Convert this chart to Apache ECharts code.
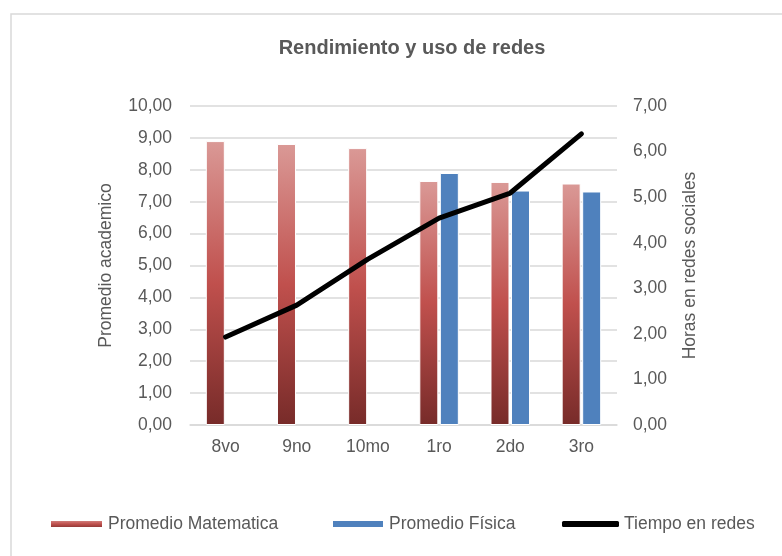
<!DOCTYPE html>
<html>
<head>
<meta charset="utf-8">
<script src="https://cdn.jsdelivr.net/npm/echarts@6/dist/echarts.min.js"></script>
<style>
  html, body { margin: 0; padding: 0; background: #fff; }
  #chart { width: 782px; height: 556px; }
</style>
</head>
<body>
<div id="chart"></div>
<script>
// datos
var categorias = ["8vo", "9no", "10mo", "1ro", "2do", "3ro"];
var promMatematica = [8.90, 8.81, 8.68, 7.65, 7.62, 7.57];
var promFisica = [null, null, null, 7.90, 7.35, 7.32];
var tiempoRedes = [1.93, 2.63, 3.64, 4.54, 5.09, 6.39];

var gris = "#595959";
var fuente = "'Liberation Sans', Arial, sans-serif";
var tam = 17.5;

var chart = echarts.init(document.getElementById("chart"));

var degradado = new echarts.graphic.LinearGradient(0, 0, 0, 1, [
  { offset: 0, color: "#da9996" },
  { offset: 0.5, color: "#c0504d" },
  { offset: 1, color: "#772b29" }
]);

function coma(v) {
  return v.toFixed(2).replace(".", ",");
}

var option = {
  animation: false,
  backgroundColor: "#fff",
  textStyle: { fontFamily: fuente },
  graphic: [
    {
      type: "rect",
      shape: { x: 11, y: 14, width: 800, height: 600 },
      style: { fill: "none", stroke: "#d9d9d9", lineWidth: 1.5 },
      silent: true
    }
  ],
  title: {
    text: "Rendimiento y uso de redes",
    left: 407,
    top: 33,
    textAlign: "center",
    textStyle: { color: gris, fontSize: 20, fontWeight: "bold", fontFamily: fuente }
  },
  legend: [
    {
      data: ["Promedio Matematica"],
      left: 44, top: 510,
      itemWidth: 53, itemHeight: 8,
      textStyle: { color: gris, fontSize: tam, fontFamily: fuente },
      icon: "rect"
    },
    {
      data: ["Promedio Física"],
      left: 326, top: 510,
      itemWidth: 52, itemHeight: 8,
      textStyle: { color: gris, fontSize: tam, fontFamily: fuente },
      icon: "rect"
    },
    {
      data: [{ name: "Tiempo en redes", icon: "roundRect" }],
      left: 557, top: 510,
      itemWidth: 57, itemHeight: 6,
      textStyle: { color: gris, fontSize: tam, fontFamily: fuente }
    }
  ],
  grid: { left: 190, right: 165, top: 106, bottom: 131 },
  xAxis: {
    type: "category",
    data: categorias,
    axisLine: { lineStyle: { color: "#d9d9d9", width: 1.5 } },
    axisTick: { show: false },
    axisLabel: { color: gris, fontSize: tam, margin: 13 }
  },
  yAxis: [
    {
      type: "value",
      min: 0, max: 10, interval: 1,
      name: "Promedio academico",
      nameLocation: "middle",
      nameRotate: 90,
      nameGap: 75,
      nameTextStyle: { color: gris, fontSize: tam },
      axisLine: { show: false },
      axisTick: { show: false },
      axisLabel: { color: gris, fontSize: tam, margin: 18, formatter: coma },
      splitLine: { lineStyle: { color: "#d9d9d9", width: 1.5 } }
    },
    {
      type: "value",
      min: 0, max: 7, interval: 1,
      name: "Horas en redes sociales",
      nameLocation: "middle",
      nameRotate: 90,
      nameGap: 64,
      nameTextStyle: { color: gris, fontSize: tam },
      axisLine: { show: false },
      axisTick: { show: false },
      axisLabel: { color: gris, fontSize: tam, margin: 16, formatter: coma },
      splitLine: { show: false }
    }
  ],
  series: [
    {
      name: "Promedio Matematica",
      type: "bar",
      data: promMatematica,
      barWidth: 19,
      barGap: "8%",
      itemStyle: { color: degradado, borderColor: "#fff", borderWidth: 1 }
    },
    {
      name: "Promedio Física",
      type: "bar",
      data: promFisica,
      barWidth: 19,
      barGap: "8%",
      itemStyle: { color: "#4f81bd", borderColor: "#fff", borderWidth: 1 }
    },
    {
      name: "Tiempo en redes",
      type: "line",
      yAxisIndex: 1,
      data: tiempoRedes,
      symbol: "none",
      lineStyle: { color: "#000", width: 5, cap: "round", join: "round" },
      itemStyle: { color: "#000" },
      z: 5
    }
  ]
};

chart.setOption(option);
</script>
</body>
</html>
